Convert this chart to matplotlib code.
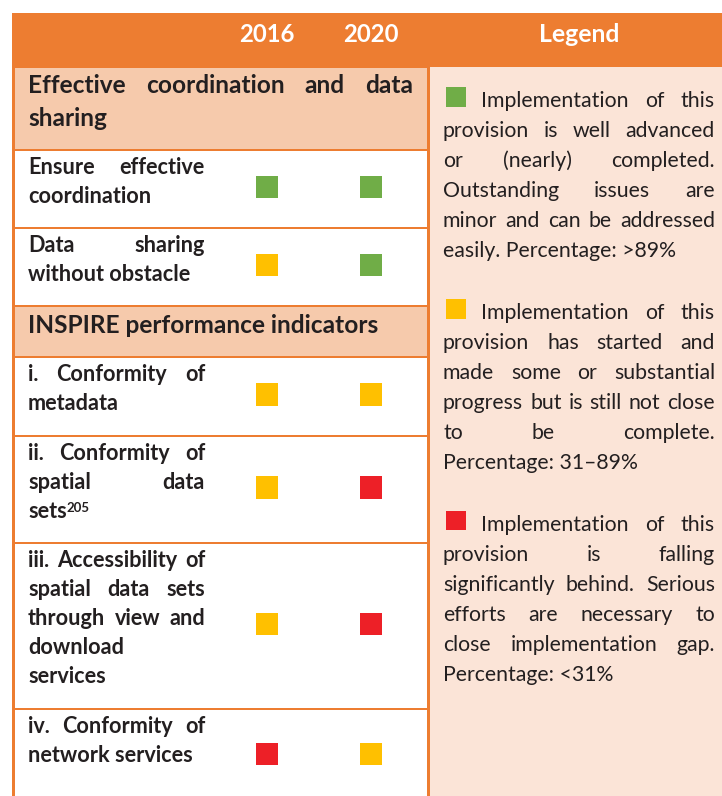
import matplotlib
matplotlib.use("Agg")
import matplotlib.pyplot as plt
from matplotlib.patches import Rectangle

# ---------------- data ----------------
years = ["2016", "2020"]
section_titles = [["Effective coordination and data", "sharing"],
                  ["INSPIRE performance indicators"]]
item_labels = [
    ["Ensure effective", "coordination"],
    ["Data sharing", "without obstacle"],
    ["i. Conformity of", "metadata"],
    ["ii. Conformity of", "spatial data", "sets"],
    ["iii. Accessibility of", "spatial data sets", "through view and", "download", "services"],
    ["iv. Conformity of", "network services"],
]
item_footnote = [None, None, None, "205", None, None]
status_2016 = ["green", "yellow", "yellow", "yellow", "yellow", "red"]
status_2020 = ["green", "green", "yellow", "red", "red", "yellow"]
legend_title = "Legend"
legend_levels = ["green", "yellow", "red"]
legend_texts = [
    ["Implementation of this", "provision is well advanced", "or (nearly) completed.",
     "Outstanding issues are", "minor and can be addressed", "easily. Percentage: >89%"],
    ["Implementation of this", "provision has started and", "made some or substantial",
     "progress but is still not close", "to be complete.", "Percentage: 31\u201389%"],
    ["Implementation of this", "provision is falling", "significantly behind. Serious",
     "efforts are necessary to", "close implementation gap.", "Percentage: <31%"],
]

# ---------------- style ----------------
ORANGE = "#ED7D31"
PEACH = "#F6CAAC"
LIGHT = "#FBE4D7"
TXT = "#231F20"
STATUS_COLORS = {"green": "#70AD47", "yellow": "#FFC000", "red": "#ED2027"}
FONT = "Lato"
FS_HEAD = 17.2
FS_SECTION = 17.6
FS_ITEM = 15.6
FS_LEGEND = 15.3

W, H = 722, 796
fig = plt.figure(figsize=(W / 100, H / 100), dpi=100)
ax = fig.add_axes([0, 0, 1, 1])
ax.set_xlim(0, W)
ax.set_ylim(H, 0)
ax.axis("off")
renderer = fig.canvas.get_renderer()


def text_width(s, **kw):
    t = ax.text(0, 0, s, **kw)
    w = t.get_window_extent(renderer=renderer).width
    t.remove()
    return w


def draw_line(words, x0, x1, y, justify, lead_w=0, **kw):
    """Draw words on baseline y between x0 and x1; lead_w reserves room for an icon."""
    if not justify or len(words) + (1 if lead_w else 0) < 2:
        x = x0
        if lead_w:
            x = x0 + lead_w + text_width(" ", **kw) * 2.5
        ax.text(x, y, " ".join(words), va="baseline", ha="left", **kw)
        return
    widths = [text_width(w, **kw) for w in words]
    items = ([lead_w] if lead_w else []) + widths
    gap = (x1 - x0 - sum(items)) / (len(items) - 1)
    x = x0
    if lead_w:
        x += lead_w + gap
    for w, wd in zip(words, widths):
        ax.text(x, y, w, va="baseline", ha="left", **kw)
        x += wd + gap


def draw_paragraph(lines, x0, x1, y0, dy, lead_w=0, **kw):
    for i, line in enumerate(lines):
        last = i == len(lines) - 1
        draw_line(line.split(" "), x0, x1, y0 + i * dy, not last,
                  lead_w=lead_w if i == 0 else 0, **kw)


# ---------------- layout ----------------
row_bounds = [67, 150, 228, 306, 357, 436, 543, 709, 803]
row_kinds = ["section", "item", "item", "section", "item", "item", "item", "item"]
TL, TR = 12, 430          # table outer edges
col_x = [267, 371]
SQ = 22.5

# header band
ax.add_patch(Rectangle((TL, 13), W - TL, 54, facecolor=ORANGE, edgecolor="none"))
for yr, cx in zip(years, col_x):
    ax.text(cx, 42, yr, ha="center", va="baseline", color="white",
            fontsize=FS_HEAD, fontweight="bold", family=FONT)
ax.text(579, 42, legend_title, ha="center", va="baseline", color="white",
        fontsize=FS_HEAD + 0.6, fontweight="bold", family=FONT)

# table frame background (orange borders show through)
ax.add_patch(Rectangle((TL, 67), TR - TL, H - 67, facecolor=ORANGE, edgecolor="none"))

# legend panel
ax.add_patch(Rectangle((TR, 67), W - TR, H - 67, facecolor=LIGHT, edgecolor="none"))

sec_i = 0
item_i = 0
for k, kind in enumerate(row_kinds):
    top, bot = row_bounds[k], row_bounds[k + 1]
    ctop = top + (1 if k == 0 else 1.2)
    cbot = bot - 1.2
    fc = PEACH if kind == "section" else "white"
    ax.add_patch(Rectangle((15, ctop), 412, cbot - ctop, facecolor=fc, edgecolor="none"))
    if kind == "section":
        lines = section_titles[sec_i]
        first = top + (25.7 if sec_i == 0 else 27.3)
        draw_paragraph(lines, 28, 413, first, 33.3, color=TXT, fontsize=FS_SECTION,
                       fontweight="bold", family=FONT)
        sec_i += 1
    else:
        lines = item_labels[item_i]
        first = top + 24.3
        kw = dict(color=TXT, fontsize=FS_ITEM, fontweight="bold", family=FONT)
        draw_paragraph(lines, 28, 205, first, 29, **kw)
        if item_footnote[item_i]:
            last = lines[-1]
            lw = text_width(last, **kw)
            ax.text(28 + lw - 0.5, first + (len(lines) - 1) * 29 - 6.5, item_footnote[item_i],
                    va="baseline", ha="left", color=TXT, fontsize=9.5, fontweight="bold",
                    family=FONT)
        cy = (top + bot) / 2 - 2
        for cx, st in zip(col_x, [status_2016[item_i], status_2020[item_i]]):
            ax.add_patch(Rectangle((cx - SQ / 2, cy - SQ / 2), SQ, SQ,
                                   facecolor=STATUS_COLORS[st], edgecolor="none"))
        item_i += 1

# legend paragraphs
leg_first = [107.3, 319.0, 530.7]
for lvl, lines, y0 in zip(legend_levels, legend_texts, leg_first):
    ax.add_patch(Rectangle((446, y0 - 20), 19.5, 19.5,
                           facecolor=STATUS_COLORS[lvl], edgecolor="none"))
    draw_paragraph(lines, 443, 715, y0, 30, lead_w=22, color=TXT, fontsize=FS_LEGEND,
                   family=FONT)

fig.savefig("out.png", dpi=100)
